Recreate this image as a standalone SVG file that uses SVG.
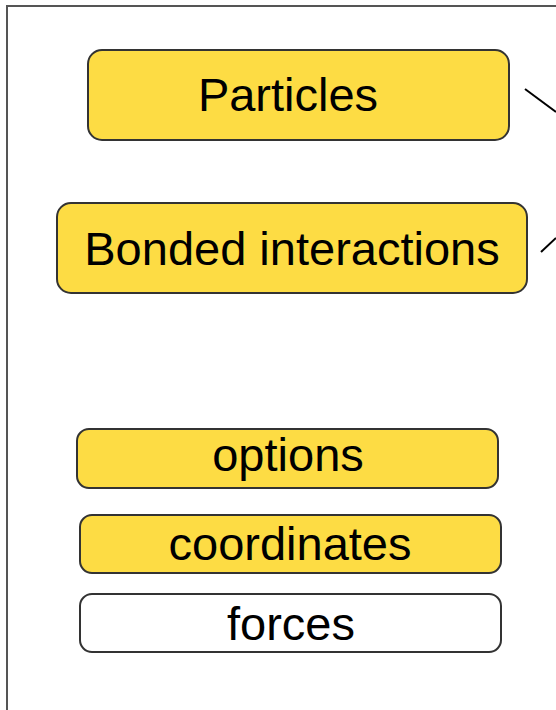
<svg xmlns="http://www.w3.org/2000/svg" width="556" height="710" viewBox="0 0 556 710">
<style>
.box{fill:#FDDC44;stroke:#333;stroke-width:2}
.white{fill:#fff;stroke:#333;stroke-width:2}
.t{font-family:"Liberation Sans",Arial,sans-serif;font-size:47px;fill:#000;text-anchor:middle}
.c{stroke:#000;stroke-width:2;fill:none}
</style>
<rect width="556" height="710" fill="#fff"/>
<path d="M7,710 V6 H556" fill="none" stroke="#555" stroke-width="2"/>
<g id="connectors">
<line class="c" x1="525" y1="89" x2="556" y2="112"/>
<line class="c" x1="541" y1="252" x2="556" y2="238"/>
</g>
<g id="particles">
<rect class="box" x="88" y="50" width="421" height="90" rx="14"/>
<text class="t" x="288" y="111">Particles</text>
</g>
<g id="bonded">
<rect class="box" x="57" y="203" width="470" height="90" rx="14"/>
<text class="t" x="292" y="265">Bonded interactions</text>
</g>
<g id="options">
<rect class="box" x="77" y="429" width="421" height="59" rx="12"/>
<text class="t" x="288" y="471">options</text>
</g>
<g id="coordinates">
<rect class="box" x="80" y="515" width="421" height="58" rx="12"/>
<text class="t" x="290" y="560">coordinates</text>
</g>
<g id="forces">
<rect class="white" x="80" y="594" width="421" height="58" rx="12"/>
<text class="t" x="291" y="640">forces</text>
</g>
</svg>
